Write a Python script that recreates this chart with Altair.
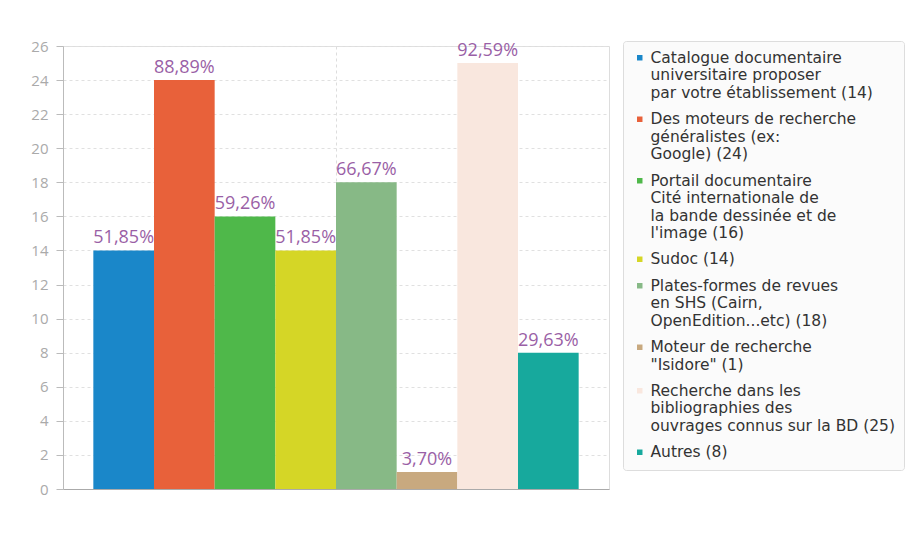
import altair as alt
import pandas as pd

names = [
    "Catalogue documentaire\nuniversitaire proposer\npar votre établissement (14)",
    "Des moteurs de recherche\ngénéralistes (ex:\nGoogle) (24)",
    "Portail documentaire\nCité internationale de\nla bande dessinée et de\nl'image (16)",
    "Sudoc (14)",
    "Plates-formes de revues\nen SHS (Cairn,\nOpenEdition...etc) (18)",
    "Moteur de recherche\n\"Isidore\" (1)",
    "Recherche dans les\nbibliographies des\nouvrages connus sur la BD (25)",
    "Autres (8)",
]
counts = [14, 24, 16, 14, 18, 1, 25, 8]
pct_labels = ["51,85%", "88,89%", "59,26%", "51,85%", "66,67%", "3,70%", "92,59%", "29,63%"]
colors = ["#1a87c9", "#e8613a", "#4fb84a", "#d5d626", "#87b986", "#c8a97f", "#f9e7de", "#17a99d"]
y_ticks = list(range(0, 27, 2))

df = pd.DataFrame({"name": names, "count": counts, "pct": pct_labels})

x_enc = alt.X(
    "name:N",
    sort=names,
    title=None,
    scale=alt.Scale(paddingInner=0, paddingOuter=0.5),
    axis=alt.Axis(
        labels=False,
        ticks=False,
        values=[names[4]],
        bandPosition=0,
        grid=True,
        gridDash=[3, 3],
        gridColor="#dddddd",
        domainColor="#aaaaaa",
    ),
)
y_enc = alt.Y(
    "count:Q",
    title=None,
    scale=alt.Scale(domain=[0, 26], nice=False),
    axis=alt.Axis(
        values=y_ticks,
        grid=True,
        gridDash=[3, 3],
        gridColor="#e0e0e0",
        labelColor="#aaaaaa",
        labelFont="Open Sans",
        labelFontSize=15,
        labelPadding=8,
        labelOverlap=False,
        tickSize=7,
        tickColor="#bbbbbb",
        domainColor="#bbbbbb",
    ),
)

bars = alt.Chart(df).mark_bar(strokeWidth=0).encode(
    x=x_enc,
    y=y_enc,
    color=alt.Color(
        "name:N",
        sort=names,
        scale=alt.Scale(domain=names, range=colors),
        legend=alt.Legend(
            title=None,
            orient="none",
            legendX=560,
            legendY=-5,
            labelExpr="split(datum.label, '\\n')",
            labelFont="DejaVu Sans",
            labelFontSize=15.5,
            labelColor="#333333",
            labelLimit=400,
            labelBaseline="middle",
            symbolType="square",
            symbolSize=30,
            symbolStrokeWidth=0,
            rowPadding=9.5,
            padding=9,
            fillColor="#fbfbfb",
            strokeColor="#dddddd",
            cornerRadius=3,
            labelOffset=3,
        ),
    ),
)

texts = alt.Chart(df).mark_text(
    baseline="bottom", dy=-3, font="Open Sans", fontSize=18, color="#9a5fa6"
).encode(
    x=x_enc,
    y=y_enc,
    text="pct:N",
)

chart = (
    alt.layer(bars, texts)
    .properties(width=546, height=443, padding={"top": 31, "left": 22, "right": 0, "bottom": 5})
    .configure_view(fill="#f8f8f8", stroke="#e6e6e6")
    .configure(background="white")
)

chart.save("out.html", embed_options={"renderer": "svg", "actions": False})
